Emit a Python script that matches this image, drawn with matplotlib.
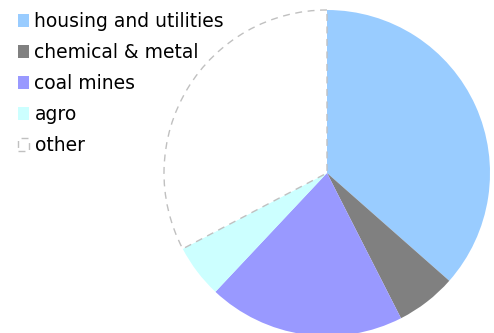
import matplotlib
matplotlib.use('Agg')
import matplotlib.pyplot as plt

# sector shares (%)
labels = ['housing and utilities', 'chemical & metal', 'coal mines', 'agro', 'other']
shares = [36.5, 6.0, 19.5, 5.3, 32.7]
colors = ['#99ccff', '#808080', '#9999ff', '#ccffff', '#ffffff']

plt.rcParams['font.family'] = ['DejaVu Sans']

W, H = 494, 333
fig = plt.figure(figsize=(W / 100, H / 100), dpi=100)

# pie: centre (327, 173), radius 163 px
cx, cy, r = 327, 173, 163
ax = fig.add_axes([(cx - r) / W, (H - cy - r) / H, 2 * r / W, 2 * r / H])
wedges, _ = ax.pie(shares, colors=colors, startangle=90, counterclock=False,
                   radius=1.0, wedgeprops=dict(linewidth=0))
ax.set_xlim(-1, 1)
ax.set_ylim(-1, 1)
ax.axis('off')

# "other" is drawn as an outline only
wedges[-1].set_edgecolor('#c0c0c0')
wedges[-1].set_linestyle((0, (5, 4)))
wedges[-1].set_linewidth(1.0)

fig.legend(wedges, labels, loc='upper left', bbox_to_anchor=(18 / W, 1 - 12 / H),
           frameon=False, fontsize=13.5, handlelength=0.6, handleheight=0.7,
           handletextpad=0.28, labelspacing=0.64, borderaxespad=0,
           borderpad=0)

fig.savefig('out.png', dpi=100)
